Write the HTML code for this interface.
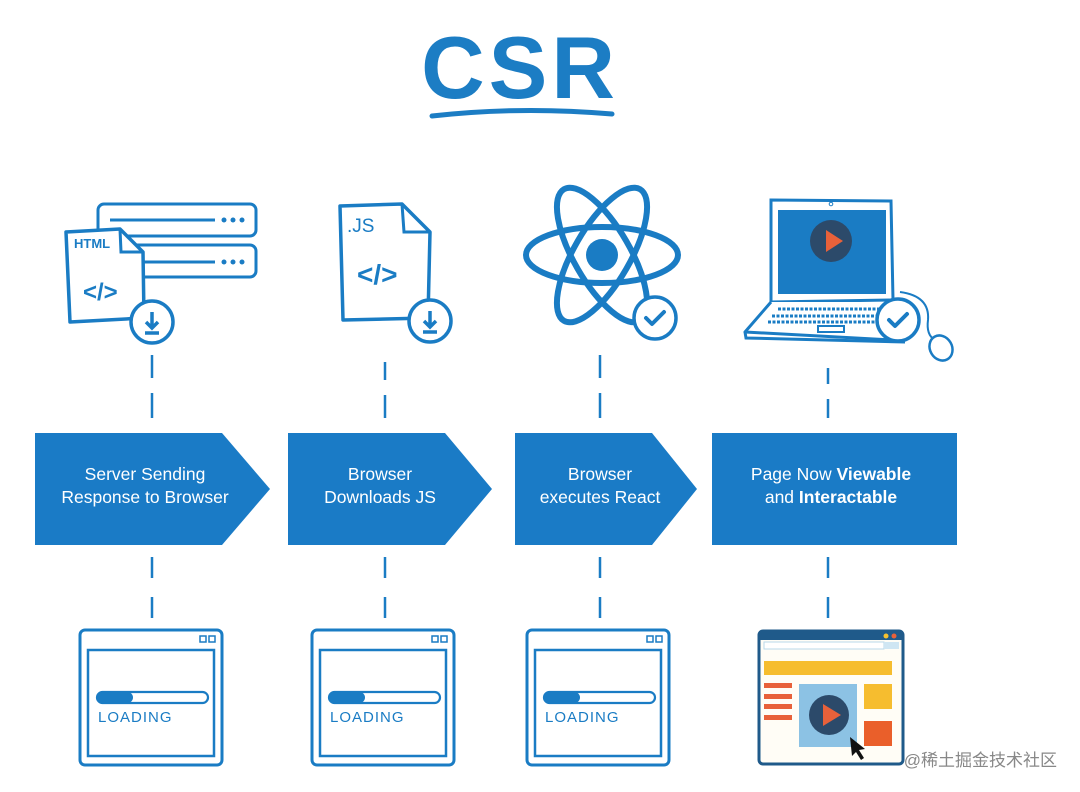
<!DOCTYPE html>
<html><head><meta charset="utf-8"><style>
html,body{margin:0;padding:0;background:#fff;}
svg{display:block}
</style></head><body>
<svg width="1080" height="792" viewBox="0 0 1080 792" xmlns="http://www.w3.org/2000/svg" font-family="Liberation Sans, sans-serif">
<defs>
<g id="chk"><circle r="21" fill="#fff" stroke="#1a7cc4" stroke-width="3.5"/><path d="M-9 0 L-3 6 L9 -6" fill="none" stroke="#1a7cc4" stroke-width="4" stroke-linecap="round" stroke-linejoin="round"/></g>
<g id="dl"><circle r="21" fill="#fff" stroke="#1a7cc4" stroke-width="3.5"/><path d="M0 -10 V6 M-6 0 L0 6 L6 0 M-7 11 H7" fill="none" stroke="#1a7cc4" stroke-width="3.5"/></g>
<g id="load">
<rect x="0" y="0" width="142" height="135" rx="5" fill="#fff" stroke="#1a7cc4" stroke-width="3"/>
<rect x="8" y="20" width="126" height="106" fill="none" stroke="#1a7cc4" stroke-width="2.5"/>
<rect x="120" y="6" width="6" height="6" fill="none" stroke="#1a7cc4" stroke-width="1.5"/><rect x="129" y="6" width="6" height="6" fill="none" stroke="#1a7cc4" stroke-width="1.5"/>
<rect x="17" y="62" width="111" height="11" rx="5.5" fill="#fff" stroke="#1a7cc4" stroke-width="2.2"/>
<rect x="17" y="62" width="36" height="11" rx="5.5" fill="#1a7cc4"/>
<text x="18" y="92" font-size="15" fill="#1a7cc4" letter-spacing="1">LOADING</text>
</g>
</defs>

<text x="520" y="98" text-anchor="middle" font-size="88" font-weight="bold" fill="#1c7dc4" letter-spacing="4">CSR</text>
<path d="M432 116 Q520 106 612 114" fill="none" stroke="#1c7dc4" stroke-width="5" stroke-linecap="round"/>

<!-- icon 1: server + html -->
<rect x="98" y="204" width="158" height="32" rx="6" fill="#fff" stroke="#1a7cc4" stroke-width="3"/>
<rect x="98" y="245" width="158" height="32" rx="6" fill="#fff" stroke="#1a7cc4" stroke-width="3"/>
<path d="M110 220 H215 M110 262 H215" stroke="#1a7cc4" stroke-width="3"/>
<g fill="#1a7cc4"><circle cx="224" cy="220" r="2.5"/><circle cx="233" cy="220" r="2.5"/><circle cx="242" cy="220" r="2.5"/><circle cx="224" cy="262" r="2.5"/><circle cx="233" cy="262" r="2.5"/><circle cx="242" cy="262" r="2.5"/></g>
<path d="M66 232 L120 229 L143 252 L144 318 L70 322 Z" fill="#fff" stroke="#1a7cc4" stroke-width="3.5" stroke-linejoin="round"/>
<path d="M120 229 L121 252 L143 252" fill="none" stroke="#1a7cc4" stroke-width="3"/>
<text x="74" y="248" font-size="13" font-weight="bold" fill="#1a7cc4">HTML</text>
<text x="83" y="300" font-size="24" font-weight="bold" fill="#1a7cc4">&lt;/&gt;</text>
<use href="#dl" x="152" y="322"/>

<!-- icon 2: JS -->
<path d="M340 206 L402 204 L430 232 L428 318 L343 320 Z" fill="#fff" stroke="#1a7cc4" stroke-width="3.5" stroke-linejoin="round"/>
<path d="M402 204 L404 232 L430 232" fill="none" stroke="#1a7cc4" stroke-width="3"/>
<text x="347" y="232" font-size="19" fill="#1a7cc4">.JS</text>
<text x="357" y="284" font-size="28" font-weight="bold" fill="#1a7cc4">&lt;/&gt;</text>
<use href="#dl" x="430" y="321"/>

<!-- icon 3: react -->
<g transform="translate(602 255)" fill="none" stroke="#1a7cc4" stroke-width="6">
<ellipse rx="76" ry="28"/>
<ellipse rx="76" ry="28" transform="rotate(60)"/>
<ellipse rx="76" ry="28" transform="rotate(-60)"/>
</g>
<circle cx="602" cy="255" r="16" fill="#1a7cc4"/>
<use href="#chk" x="655" y="318"/>

<!-- icon 4: laptop -->
<path d="M771 200 L891 201 L893 300 L771 302 Z" fill="#fff" stroke="#1a7cc4" stroke-width="3"/>
<rect x="778" y="210" width="108" height="84" fill="#1a7cc4"/>
<circle cx="831" cy="204" r="1.8" fill="none" stroke="#1a7cc4"/>
<circle cx="831" cy="241" r="21" fill="#2c4a6a"/>
<path d="M826 230 L843 241 L826 252 Z" fill="#e8613a"/>
<path d="M771 302 L745 332 L893 340 L893 302" fill="#fff" stroke="#1a7cc4" stroke-width="3" stroke-linejoin="round"/>
<path d="M745 332 L746 338 L905 342" fill="none" stroke="#1a7cc4" stroke-width="3"/>
<g stroke="#1a7cc4" stroke-width="3" stroke-dasharray="3 1.5"><path d="M778 309 H886 M772 316 H888 M768 322 H888"/></g>
<rect x="818" y="326" width="26" height="6" fill="none" stroke="#1a7cc4" stroke-width="2"/>
<path d="M900 292 Q930 296 928 320 Q926 335 935 340" fill="none" stroke="#1a7cc4" stroke-width="2"/>
<ellipse cx="941" cy="348" rx="11" ry="13" transform="rotate(-30 941 348)" fill="#fff" stroke="#1a7cc4" stroke-width="2.5"/>
<use href="#chk" x="898" y="320"/>

<!-- dashed connectors -->
<g stroke="#1a7cc4" stroke-width="2.5">
<path d="M152 355V378M152 393V418M152 557V578M152 597V618"/>
<path d="M385 362V380M385 395V418M385 557V578M385 597V618"/>
<path d="M600 355V378M600 393V418M600 557V578M600 597V618"/>
<path d="M828 368V384M828 399V418M828 557V578M828 597V618"/>
</g>

<!-- arrows -->
<g fill="#1a7bc6">
<path d="M35 433 H222 L270 489 L222 545 H35 Z"/>
<path d="M288 433 H445 L492 489 L445 545 H288 Z"/>
<path d="M515 433 H652 L697 489 L652 545 H515 Z"/>
<rect x="712" y="433" width="245" height="112"/>
</g>
<g fill="#fff" font-size="17.5" text-anchor="middle">
<text x="145" y="480">Server Sending</text><text x="145" y="503">Response to Browser</text>
<text x="380" y="480">Browser</text><text x="380" y="503">Downloads JS</text>
<text x="600" y="480">Browser</text><text x="600" y="503">executes React</text>
<text x="831" y="480">Page Now <tspan font-weight="bold">Viewable</tspan></text><text x="831" y="503">and <tspan font-weight="bold">Interactable</tspan></text>
</g>

<use href="#load" x="80" y="630"/>
<use href="#load" x="312" y="630"/>
<use href="#load" x="527" y="630"/>

<!-- final page -->
<rect x="759" y="631" width="144" height="133" rx="4" fill="#fffdf6" stroke="#1f5a8a" stroke-width="3"/>
<rect x="759" y="631" width="144" height="9" fill="#1f5a8a"/>
<circle cx="886" cy="636" r="2.5" fill="#f6c12f"/><circle cx="894" cy="636" r="2.5" fill="#e8613a"/>
<rect x="764" y="642" width="120" height="7" fill="#fff" stroke="#b8d8ea"/>
<rect x="884" y="642" width="15" height="7" fill="#cfe6f3"/>
<rect x="764" y="661" width="128" height="14" fill="#f6bd2f"/>
<g fill="#e8613a"><rect x="764" y="683" width="28" height="5"/><rect x="764" y="694" width="28" height="5"/><rect x="764" y="704" width="28" height="5"/><rect x="764" y="715" width="28" height="5"/></g>
<rect x="799" y="684" width="58" height="63" fill="#8cc2e4"/>
<circle cx="829" cy="715" r="20" fill="#2c4a6a"/>
<path d="M823 704 L841 715 L823 726 Z" fill="#e8613a"/>
<rect x="864" y="684" width="28" height="25" fill="#f6bd2f"/>
<rect x="864" y="721" width="28" height="25" fill="#ea5f2a"/>
<path d="M850 737 L852 756 L856 752 L861 760 L864 758 L859 750 L865 749 Z" fill="#111"/>

<text x="1057" y="766" text-anchor="end" font-size="17" fill="#888" font-family="Liberation Sans, Noto Sans CJK SC, sans-serif">@稀土掘金技术社区</text>
</svg>
</body></html>
